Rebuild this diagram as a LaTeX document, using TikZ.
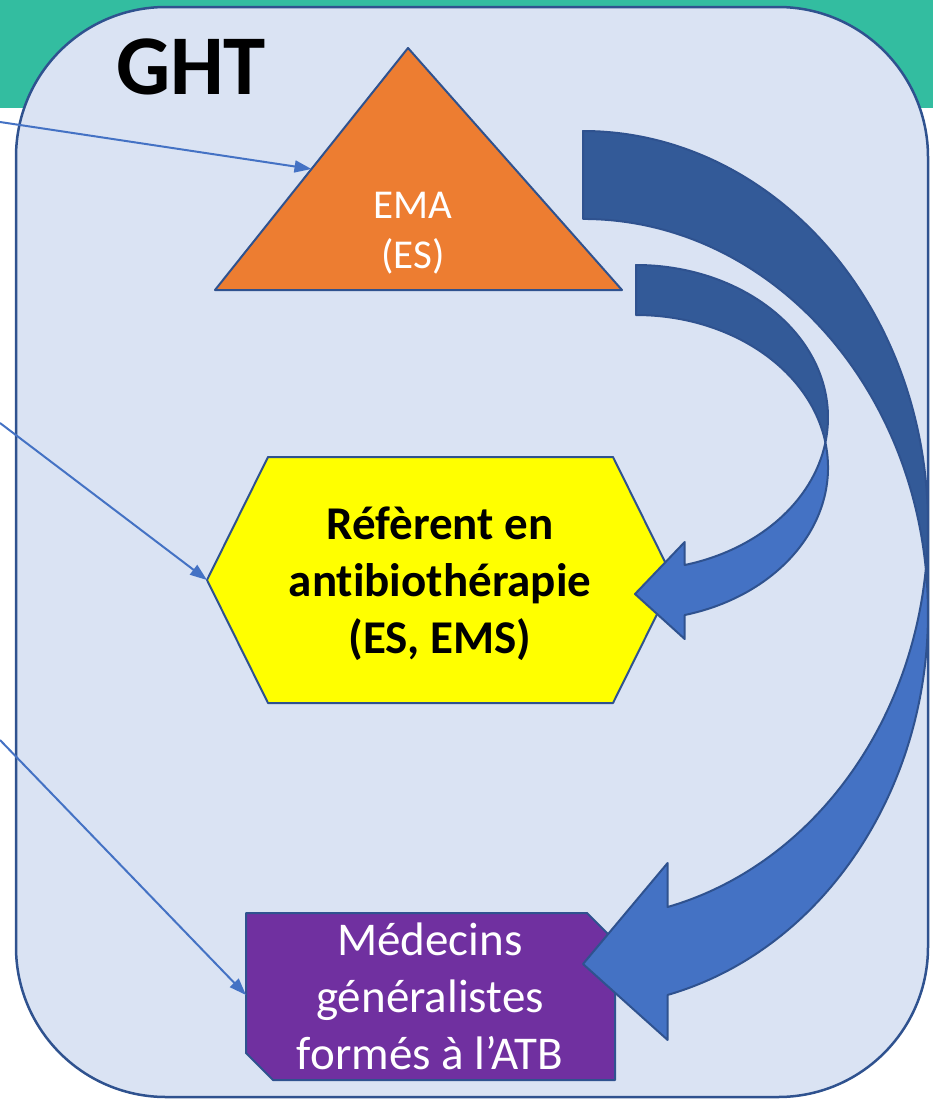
\documentclass[tikz,border=0pt]{standalone}
\usepackage{fontspec}
\setmainfont{Carlito}[Ligatures=CommonOff]
\usetikzlibrary{arrows.meta,calc}

\definecolor{ghtteal}{RGB}{51,189,160}
\definecolor{ghtfill}{RGB}{218,227,243}
\definecolor{ghtline}{RGB}{47,82,143}
\definecolor{emaorange}{RGB}{237,125,49}
\definecolor{refyellow}{RGB}{255,255,0}
\definecolor{medpurple}{RGB}{112,48,160}
\definecolor{flowblue}{RGB}{68,114,196}
\definecolor{flowdark}{RGB}{51,90,152}

\begin{document}
\begin{tikzpicture}[x=1pt, y=-1pt,
    outline/.style={draw=ghtline, line width=2pt, line join=round},
    link/.style={flowblue, line width=2pt, -{Triangle[length=17pt, width=12pt]}},
    lbl/.style={align=center, inner sep=0pt}]
    \useasboundingbox (0,0) rectangle (933,1100);
    % Background
    \fill[ghtteal] (0,0) rectangle (933,108);
    \filldraw[ghtfill, draw=ghtline, line width=2.5pt, rounded corners=150pt] (16,7) rectangle (928,1097);
    \node[lbl, anchor=base, font=\bfseries\fontsize{85}{100}\selectfont] (ght) at (191,94) {GHT};
    % Shapes
    \coordinate (emaL) at (215,290);
    \coordinate (emaT) at (408,48);
    \coordinate (emaR) at (622,290);
    \filldraw[outline, fill=emaorange] (emaL) -- (emaT) -- (emaR) -- cycle;
    \node[lbl, text=white, font=\fontsize{41}{50}\selectfont] (ema) at (413,233) {EMA\\(ES)};

    \coordinate (refW) at (207,580);
    \coordinate (refNW) at (268,457);
    \coordinate (refNE) at (613,457);
    \coordinate (refE) at (674,580);
    \coordinate (refSE) at (613,703);
    \coordinate (refSW) at (268,703);
    \filldraw[outline, fill=refyellow] (refW) -- (refNW) -- (refNE) -- (refE) -- (refSE) -- (refSW) -- cycle;
    \node[lbl, font=\bfseries\fontsize{47}{57}\selectfont] (referent) at (440,584) {Réfèrent en\\antibiothérapie\\(ES, EMS)};

    \coordinate (medIn) at (246,995);
    \filldraw[outline, fill=medpurple] (246,913) -- (587,913) -- (615,941) -- (615,1080) -- (273,1080) -- (246,1053) -- cycle;
    \node[lbl, text=white, font=\fontsize{47}{57}\selectfont] (medecins) at (430,996) {Médecins\\généralistes\\formés à l’ATB};
    % Links from outside
    \coordinate (srcA) at (0,122);
    \coordinate (srcB) at (0,423);
    \coordinate (srcC) at (0,740);
    \draw[link] (srcA) -- ($(emaL)!0.5!(emaT)$);
    \draw[link] (srcB) -- (refW);
    \draw[link] (srcC) -- (medIn);
    % Big curved arrow
    \filldraw[outline, fill=flowdark] (583,131)
        arc[start angle=-90, end angle=6.41, x radius=345, y radius=394]
        arc[start angle=-6.41, end angle=-90, x radius=345, y radius=394] -- cycle;
    \filldraw[outline, fill=flowblue] (925.8,569)
        arc[start angle=-6.41, end angle=75.8, x radius=345, y radius=394]
        -- ++(0,45) -- (583,964) -- (667.6,863) -- (667.6,907)
        arc[start angle=75.8, end angle=6.41, x radius=345, y radius=394] -- cycle;
    % Small curved arrow
    \filldraw[outline, fill=flowdark] (636,265)
        arc[start angle=-90, end angle=9.44, x radius=192, y radius=152.5]
        arc[start angle=-9.44, end angle=-90, x radius=192, y radius=152.5] -- cycle;
    \filldraw[outline, fill=flowblue] (825.4,442.5)
        arc[start angle=-9.44, end angle=75.3, x radius=192, y radius=152.5]
        -- ++(0,24) -- (635,594) -- (684.7,542) -- (684.7,565)
        arc[start angle=75.3, end angle=9.44, x radius=192, y radius=152.5] -- cycle;
\end{tikzpicture}
\end{document}
